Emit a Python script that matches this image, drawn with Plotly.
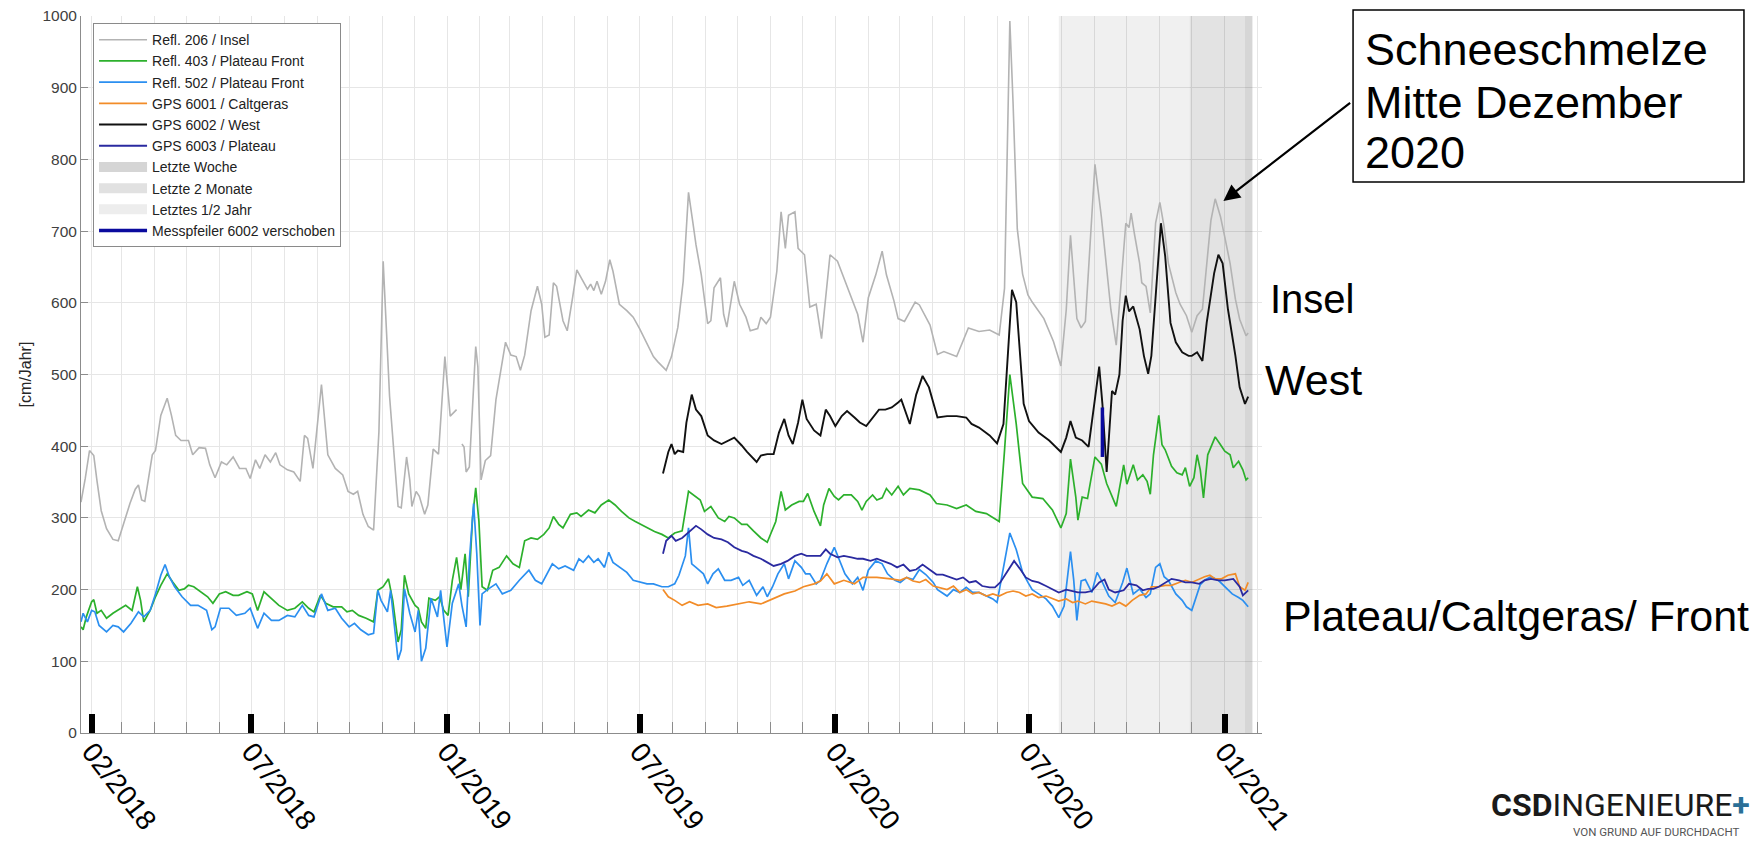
import plotly.graph_objects as go
from datetime import date, timedelta

# ---------------- data (day offset from START, value in cm/Jahr) ----------------
START = date(2018, 1, 22)
X_END_DAY = 1110

insel = [(0,322),(4,355),(8,394),(12,387),(15,352),(19,310),(24,285),(30,270),(35,268),(40,292),
(46,320),(51,340),(54,346),(57,325),(60,323),(67,388),(70,394),(75,443),(81,467),(85,443),
(89,415),(94,408),(101,408),(105,388),(111,398),(117,397),(121,374),(126,356),(132,378),(137,374),
(143,385),(149,369),(155,369),(159,355),(164,381),(168,369),(173,388),(178,378),(183,391),(187,374),
(194,367),(200,364),(206,351),(210,415),(213,411),(218,369),(226,486),(232,388),(239,369),(246,360),
(251,337),(256,333),(260,337),(265,305),(270,288),(275,283),(280,420),(284,658),(290,470),(298,316),
(301,314),(306,385),(309,353),(311,316),(315,337),(318,330),(323,305),(326,318),(331,396),(336,389),
(342,525),(347,442),(353,451),(None,None),(358,403),(360,399),(362,364),(365,371),(371,539),(373,511),
(376,353),(380,380),(385,387),(390,465),(399,545),(404,527),(409,525),(413,506),(417,527),(423,589),
(429,623),(433,598),(436,552),(440,555),(444,628),(447,623),(453,575),(457,561),(462,607),(466,646),
(470,635),(476,619),(479,626),(482,617),(485,630),(489,612),(493,630),(497,660),(500,644),(506,598),
(513,589),(519,580),(525,564),(532,543),(538,525),(542,518),(550,506),(555,525),(561,566),(566,630),
(571,754),(575,713),(578,681),(583,639),(589,571),(592,575),(595,621),(601,635),(604,584),(607,566),
(614,630),(619,598),(625,580),(629,561),(636,564),(639,580),(644,571),(648,580),(654,644),(658,727),
(662,676),(665,722),(671,727),(674,676),(680,667),(685,594),(691,598),(696,550),(700,612),(704,667),
(711,658),(717,635),(724,607),(730,584),(735,545),(740,607),(747,639),(753,672),(757,639),(764,603),
(768,578),(774,574),(784,601),(788,597),(798,569),(805,528),(811,532),(823,525),(834,565),(844,560),
(854,562),(863,555),(868,620),(871,850),(873,993),(876,880),(880,703),(885,640),(890,611),(894,601),
(900,588),(905,578),(914,546),(921,512),(926,590),(930,694),(936,578),(940,565),(944,574),(949,700),
(953,793),(959,720),(964,647),(968,590),(973,541),(979,650),(982,711),(985,705),(987,725),(990,697),
(995,655),(997,628),(1001,623),(1005,586),(1010,711),(1014,740),(1018,706),(1022,655),(1029,614),(1033,598),
(1039,582),(1044,559),(1049,582),(1054,591),(1058,655),(1062,715),(1066,745),(1071,720),(1075,692),(1080,655),
(1085,605),(1089,577),(1095,554),(1097,558)]

plateau_front_403 = [(0,148),(2,144),(5,162),(10,183),(12,186),(15,167),(19,171),(24,160),(30,167),(37,174),
(42,178),(48,171),(53,204),(56,185),(59,155),(65,171),(70,190),(75,206),(81,222),(86,211),
(92,199),(97,201),(101,206),(106,204),(111,199),(119,190),(124,181),(130,194),(136,197),(143,192),
(148,192),(156,197),(161,194),(166,171),(172,197),(179,188),(186,178),(194,171),(201,174),(208,183),
(214,174),(219,169),(225,192),(230,181),(237,176),(245,176),(250,169),(255,171),(261,164),(268,160),
(275,155),(279,199),(284,204),(289,215),(293,185),(298,127),(301,144),(304,220),(308,194),(314,178),
(317,174),(320,155),(324,146),(327,188),(333,185),(337,190),(341,171),(345,164),(349,213),(353,245),
(357,200),(361,250),(364,190),(368,300),(371,342),(374,295),(377,204),(382,199),(387,227),(393,231),
(400,247),(406,236),(412,231),(417,268),(423,272),(429,270),(435,277),(440,286),(444,302),(449,291),
(453,286),(460,305),(466,307),(470,302),(477,311),(483,307),(489,318),(496,325),(502,318),(508,309),
(515,300),(521,295),(526,291),(533,286),(539,281),(546,277),(552,272),(558,279),(565,282),(571,337),
(576,332),(582,325),(586,309),(592,316),(599,300),(605,295),(609,302),(614,300),(621,291),(626,291),
(632,282),(639,272),(645,266),(648,277),(653,295),(658,337),(662,311),(668,318),(675,323),(679,323),
(683,334),(689,309),(695,289),(698,318),(703,341),(708,330),(712,325),(717,332),(724,332),(730,323),
(734,311),(738,323),(744,332),(748,325),(753,328),(757,341),(762,332),(768,344),(773,332),(779,341),
(788,339),(798,332),(804,320),(814,318),(823,313),(832,318),(841,309),(851,306),(858,300),(863,295),
(868,394),(873,500),(879,431),(885,348),(894,329),(904,327),(913,311),(921,286),(926,306),(930,382),
(935,329),(937,297),(941,329),(946,327),(953,385),(959,375),(964,348),(969,329),(973,316),(980,374),
(983,347),(989,374),(993,353),(998,360),(1002,351),(1005,333),(1008,388),(1013,443),(1016,402),(1019,395),
(1025,372),(1030,363),(1035,360),(1038,370),(1042,344),(1046,356),(1049,388),(1052,367),(1055,328),(1059,388),
(1066,413),(1071,402),(1075,393),(1080,388),(1083,370),(1088,379),(1092,367),(1095,353),(1097,356)]

plateau_front_502 = [(0,155),(2,167),(6,155),(10,171),(13,169),(17,150),(24,141),(30,150),(35,148),(40,141),
(47,153),(54,169),(59,162),(65,171),(70,194),(75,220),(79,235),(83,218),(88,204),(95,190),
(103,178),(110,178),(118,171),(123,144),(126,148),(131,174),(139,174),(146,164),(154,167),(159,174),
(166,146),(172,167),(179,157),(186,157),(194,164),(201,162),(208,178),(214,164),(219,162),(226,194),
(232,171),(239,174),(245,160),(252,148),(257,153),(263,144),(270,137),(275,139),(279,199),(282,185),
(288,169),(291,199),(298,102),(301,116),(304,201),(309,167),(314,141),(317,171),(320,100),(324,118),
(329,188),(335,162),(338,199),(344,120),(349,181),(355,208),(358,178),(362,148),(365,240),(369,320),
(372,250),(375,150),(377,194),(382,200),(390,208),(396,194),(404,199),(412,213),(421,227),(427,213),
(433,208),(443,236),(449,229),(455,233),(463,227),(468,243),(472,238),(477,247),(482,238),(486,243),
(492,231),(496,252),(500,238),(506,231),(513,224),(519,213),(525,211),(532,208),(538,208),(546,204),
(552,204),(558,208),(562,220),(568,247),(571,286),(574,236),(578,231),(585,222),(589,208),(594,222),
(599,229),(605,213),(611,213),(618,217),(622,206),(628,213),(635,192),(641,204),(645,190),(650,204),
(655,222),(661,236),(665,215),(671,240),(677,231),(681,222),(685,222),(691,208),(695,213),(701,236),
(708,259),(714,236),(718,222),(725,208),(730,217),(735,199),(740,227),(747,240),(753,236),(758,222),
(765,213),(770,210),(776,217),(782,214),(788,228),(794,221),(801,210),(805,200),(814,191),(820,200),
(826,196),(832,203),(838,196),(844,196),(851,191),(857,187),(861,182),(867,228),(873,279),(879,256),
(885,224),(890,210),(894,200),(900,194),(907,187),(913,177),(919,161),(924,177),(930,253),(933,214),
(936,157),(940,212),(944,214),(950,196),(955,224),(960,210),(966,191),(972,182),(979,210),(983,230),
(985,218),(989,194),(995,201),(1001,189),(1005,194),(1010,231),(1014,236),(1018,218),(1022,213),(1029,194),
(1035,185),(1039,176),(1044,171),(1049,194),(1052,207),(1056,213),(1062,218),(1069,213),(1075,204),(1082,194),
(1088,189),(1092,185),(1097,176)]

gps_6001 = [(547,200),(552,190),(558,185),(565,178),(572,183),(580,178),(589,180),(597,175),(607,177),(618,180),
(628,183),(639,180),(649,186),(661,194),(671,198),(679,204),(689,208),(695,212),(701,222),(708,208),
(717,213),(727,208),(735,217),(748,217),(761,215),(770,213),(776,217),(782,212),(788,210),(794,214),
(801,205),(807,203),(814,200),(820,205),(826,196),(832,200),(838,194),(844,196),(851,191),(857,194),
(863,191),(870,196),(876,198),(882,196),(888,191),(894,194),(900,189),(907,191),(913,187),(919,184),
(926,187),(932,182),(937,184),(944,180),(950,184),(957,182),(963,180),(969,177),(976,182),(982,177),
(988,185),(995,192),(1001,194),(1006,204),(1013,204),(1019,206),(1025,206),(1032,210),(1038,213),(1044,210),
(1051,215),(1056,218),(1061,220),(1066,215),(1072,215),(1078,220),(1085,222),(1089,204),(1094,199),(1097,210)]

gps_6002 = [(547,362),(552,392),(555,403),(558,389),(561,394),(566,392),(569,433),(574,472),(578,451),(583,442),
(589,415),(595,408),(602,403),(608,408),(614,412),(621,401),(626,392),(635,378),(639,387),(645,389),
(651,389),(656,419),(661,438),(665,415),(669,403),(674,433),(678,465),(682,438),(689,422),(695,415),
(700,451),(704,442),(709,428),(715,442),(720,449),(727,440),(732,433),(738,428),(745,442),(750,451),
(756,451),(762,454),(768,461),(771,465),(779,431),(785,472),(791,498),(797,482),(805,440),(814,442),
(823,442),(832,440),(837,431),(844,426),(854,415),(861,404),(867,431),(871,532),(875,618),(879,601),
(882,541),(886,459),(891,435),(900,419),(910,408),(921,392),(926,412),(930,435),(935,412),(941,408),
(947,399),(953,468),(957,511),(960,459),(964,364),(969,477),(972,472),(976,500),(979,575),(982,610),
(985,588),(989,595),(995,563),(999,526),(1003,501),(1006,526),(1012,641),(1015,711),(1019,665),(1024,572),
(1029,545),(1035,531),(1041,526),(1044,526),(1049,531),(1054,519),(1058,572),(1065,641),(1069,667),(1073,655),
(1078,591),(1085,526),(1089,482),(1094,459),(1097,469)]

gps_6003 = [(547,250),(550,268),(555,275),(559,268),(565,272),(569,277),(574,284),(578,289),(583,284),(589,277),
(595,272),(602,270),(608,266),(614,259),(621,254),(626,252),(632,247),(639,243),(645,238),(651,233),
(658,236),(664,240),(671,247),(677,250),(682,247),(689,247),(695,247),(700,256),(704,250),(711,245),
(717,247),(724,245),(730,243),(735,243),(742,240),(748,243),(754,240),(761,236),(767,231),(773,235),
(779,226),(785,228),(791,235),(798,228),(804,221),(810,221),(817,217),(823,214),(829,217),(835,210),
(841,212),(847,205),(854,203),(859,203),(864,210),(870,224),(877,240),(882,230),(888,217),(894,212),
(900,210),(907,205),(913,200),(919,196),(926,200),(932,198),(937,196),(944,196),(950,198),(957,210),
(962,214),(966,200),(972,196),(980,199),(985,208),(992,206),(998,199),(1003,201),(1008,201),(1013,204),
(1019,210),(1025,215),(1032,213),(1038,210),(1044,210),(1051,208),(1056,213),(1062,215),(1069,213),(1075,213),
(1083,215),(1089,204),(1092,192),(1097,199)]

messpfeiler_days = [960, 960]
messpfeiler_values = [454, 385]

shade_names = ["Letzte Woche", "Letzte 2 Monate", "Letztes 1/2 Jahr"]
shade_start = ["2021-01-20", "2020-11-29", "2020-07-29"]
shade_end = ["2021-01-27", "2021-01-20", "2020-11-29"]
shade_colors = ["rgba(0,0,0,0.16)", "rgba(0,0,0,0.11)", "rgba(0,0,0,0.06)"]
shade_legend_colors = ["#d5d5d5", "#e1e1e1", "#ededed"]

tick_dates = ["2018-02-01", "2018-07-01", "2019-01-01", "2019-07-01", "2020-01-01", "2020-07-01", "2021-01-01"]
tick_labels = ["02/2018", "07/2018", "01/2019", "07/2019", "01/2020", "07/2020", "01/2021"]

box_lines = ["Schneeschmelze", "Mitte Dezember", "2020"]
annotation_arrow_day, annotation_arrow_value = 1073, 741

Y_MIN, Y_MAX = 0, 1000

# ---------------- helpers ----------------
def to_dates(days):
    return [None if d is None else (START + timedelta(days=d)).isoformat() for d in days]

def split(pairs):
    return to_dates([p[0] for p in pairs]), [p[1] for p in pairs]

FONT = "Arial, Liberation Sans, sans-serif"
fig = go.Figure()

# shaded periods (drawn first, below lines)
for nm, s, e, c in zip(shade_names, shade_start, shade_end, shade_colors):
    fig.add_trace(go.Scatter(
        x=[s, e, e, s, s], y=[Y_MIN, Y_MIN, Y_MAX, Y_MAX, Y_MIN],
        mode="lines", fill="toself", fillcolor=c, line=dict(width=0),
        name=nm, hoverinfo="skip", showlegend=False))

lines = [
    ("Refl. 206 / Insel", insel, "#b3b3b3", 1.6),
    ("Refl. 403 / Plateau Front", plateau_front_403, "#2cb02c", 1.7),
    ("Refl. 502 / Plateau Front", plateau_front_502, "#2b8ff0", 1.7),
    ("GPS 6001 / Caltgeras", gps_6001, "#f28c28", 1.7),
    ("GPS 6002 / West", gps_6002, "#111111", 1.9),
    ("GPS 6003 / Plateau", gps_6003, "#2a2aa0", 1.8),
]
for r, (nm, pairs, col, w) in enumerate(lines):
    xs, ys = split(pairs)
    fig.add_trace(go.Scatter(x=xs, y=ys, mode="lines", name=nm,
                             line=dict(color=col, width=w), connectgaps=False,
                             legendrank=1 + r))

# legend swatches for the shaded periods
for i, (nm, c) in enumerate(zip(shade_names, shade_legend_colors)):
    fig.add_trace(go.Scatter(x=[None], y=[None], mode="lines", name=nm,
                             line=dict(color=c, width=14), legendrank=7 + i,
                             hoverinfo="skip"))

fig.add_trace(go.Scatter(x=to_dates(messpfeiler_days), y=messpfeiler_values, mode="lines",
                         name="Messpfeiler 6002 verschoben",
                         line=dict(color="#0a0a9e", width=3.5), legendrank=10))

fig.update_layout(
    width=1754, height=836,
    margin=dict(l=73, r=500, t=8, b=111, autoexpand=False),
    paper_bgcolor="white", plot_bgcolor="white",
    font=dict(family=FONT, color="#262626"),
    showlegend=True,
    legend=dict(x=0.0102, y=0.990, xanchor="left", yanchor="top",
                bgcolor="white", bordercolor="#8a8a8a", borderwidth=1,
                font=dict(size=14, family=FONT, color="#222"),
                itemwidth=48, tracegroupgap=0),
    xaxis=dict(
        type="date",
        range=to_dates([0, X_END_DAY]),
        tickmode="array", tickvals=tick_dates, ticktext=tick_labels,
        tickangle=52, tickfont=dict(size=28, color="black", family=FONT),
        ticklabelstandoff=-10,
        ticks="inside", ticklen=19, tickwidth=6, tickcolor="black",
        showgrid=True, gridcolor="#e6e6e6", gridwidth=1,
        showline=True, linecolor="#8c8c8c", linewidth=1,
        zeroline=False, automargin=False,
        minor=dict(dtick="M1", tick0="2018-01-01", ticks="inside", ticklen=11,
                   tickcolor="#8c8c8c", tickwidth=1, showgrid=True,
                   gridcolor="#e6e6e6", gridwidth=1),
    ),
    yaxis=dict(
        range=[Y_MIN, Y_MAX], dtick=100, tick0=0,
        ticks="inside", ticklen=7, tickcolor="#8c8c8c",
        tickfont=dict(size=15.5, color="#404040"),
        ticklabeloverflow="allow",
        showgrid=True, gridcolor="#e6e6e6", gridwidth=1,
        showline=True, linecolor="#8c8c8c", linewidth=1, zeroline=False,
        automargin=False,
        title=dict(text="[cm/Jahr]", font=dict(size=16, color="#262626"), standoff=6),
    ),
)

fig.add_annotation(xref="paper", yref="paper", x=1.0051, y=0.6053, text="Insel",
                   showarrow=False, xanchor="left", yanchor="middle",
                   font=dict(family=FONT, size=40, color="black"))
fig.add_annotation(xref="paper", yref="paper", x=1.0008, y=0.4923, text="West",
                   showarrow=False, xanchor="left", yanchor="middle",
                   font=dict(family=FONT, size=43, color="black"))
fig.add_annotation(xref="paper", yref="paper", x=1.0161, y=0.1632, text="Plateau/Caltgeras/ Front",
                   showarrow=False, xanchor="left", yanchor="middle",
                   font=dict(family=FONT, size=43, color="black"))

# text box
fig.add_shape(type="rect", xref="paper", yref="paper", x0=1.0771, x1=1.4081, y0=0.7685, y1=1.0084,
              line=dict(color="black", width=1.5), fillcolor="white", layer="above")
for txt, yy in zip(box_lines, [0.9533, 0.8787, 0.8103]):
    fig.add_annotation(xref="paper", yref="paper", x=1.0855, y=yy, text=txt,
                       showarrow=False, xanchor="left", yanchor="middle",
                       font=dict(family=FONT, size=45, color="black"))
# arrow pointing to December peak
fig.add_annotation(x=to_dates([annotation_arrow_day])[0], y=annotation_arrow_value,
                   xref="x", yref="y", text="",
                   showarrow=True, arrowhead=2, arrowsize=1.5, arrowwidth=2.2,
                   arrowcolor="black", ax=129, ay=-100, standoff=1)

# logo
fig.add_annotation(xref="paper", yref="paper", x=1.4150, y=-0.1000,
                   text="<b>CSD</b>INGENIEURE<span style='color:#2a6f97'><b>+</b></span>",
                   showarrow=False, xanchor="right", yanchor="middle",
                   font=dict(family="Roboto, Arial", size=32, color="#1a1a1a"))
fig.add_annotation(xref="paper", yref="paper", x=1.4060, y=-0.1385,
                   text="VON GRUND AUF DURCHDACHT", showarrow=False,
                   xanchor="right", yanchor="middle",
                   font=dict(family="Roboto, Arial", size=11.5, color="#555"))

fig.write_html("out.html")
